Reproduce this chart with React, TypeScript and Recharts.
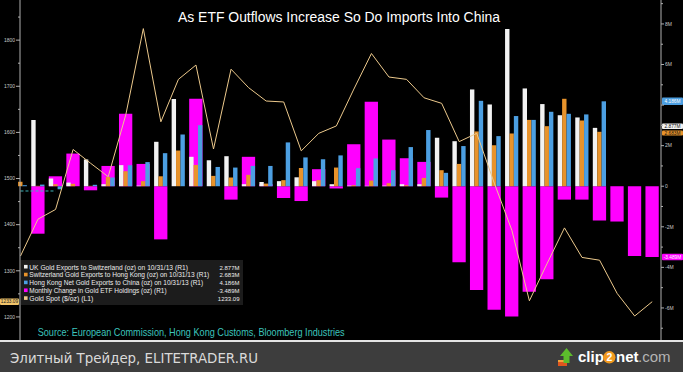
"use client";
import React from "react";
import { Bar, ComposedChart, Legend, Line, ReferenceLine, XAxis, YAxis } from "recharts";

// monthly buckets, Jan 2011 .. Jan 2014
const months = [
  "Jan 11", "Feb 11", "Mar 11", "Apr 11", "May 11", "Jun 11", "Jul 11", "Aug 11", "Sep 11", "Oct 11", "Nov 11", "Dec 11",
  "Jan 12", "Feb 12", "Mar 12", "Apr 12", "May 12", "Jun 12", "Jul 12", "Aug 12", "Sep 12", "Oct 12", "Nov 12", "Dec 12",
  "Jan 13", "Feb 13", "Mar 13", "Apr 13", "May 13", "Jun 13", "Jul 13", "Aug 13", "Sep 13", "Oct 13", "Nov 13", "Dec 13",
  "Jan 14",
];

// million oz (R1)
const ukToSwitzerland = [
  0, 3.26, 0.38, 0.18, 1.32, 0.1, 1.04, 0.03, 2.19, 4.3, 1.45, 1.28,
  1.48, 0.1, 0.21, 0.25, 0.44, 0.25, 0.1, 0.03, 0.02, 0.03, 0.1, 0.1,
  2.39, 2.22, 4.77, 4.03, 7.75, 4.82, 4.05, 3.5, 3.39, 2.877, null, null,
  null,
];
const switzerlandToHongKong = [
  0.22, 0.02, 0.1, 0.12, 0.02, 0.46, 0.74, 0.25, 0.49, 1.76, 1.05, 0.51,
  0.43, 0.56, 0.13, 0.3, 0.9, 0.3, 0.92, 0.05, 0.28, 0.15, 0.05, 0.41,
  0.79, 1.1, 2.7, 2.02, 2.6, 3.27, 2.96, 4.31, 3.24, 2.683, null, null,
  null,
];
const hongKongToChina = [
  0.05, 0.08, -0.15, 0, 0.07, 0.43, 1.04, 1.19, 1.63, 2.55, 3.01, 0.95,
  0.92, 1.0, 1.0, 2.16, 1.42, 1.33, 1.52, 0.89, 1.37, 0.79, 1.93, 2.77,
  0.66, 1.98, 4.21, 2.47, 3.46, 3.27, 3.67, 3.57, 3.54, 4.186, null, null,
  null,
];
const etfHoldingsChange = [
  0, -2.34, 0.49, 1.61, -0.2, 1.0, 3.57, 1.1, -2.62, 0, 4.31, 0,
  -0.66, 1.45, 0.1, -0.58, -0.73, 0.84, -0.11, 2.07, 4.16, 2.3, 1.38, 1.2,
  -0.56, -3.75, -5.12, -6.09, -6.42, -5.2, -4.58, -0.66, -0.66, -1.69, -1.74, -3.44,
  -3.489,
];
// $/oz (L1)
const goldSpot = [
  1332, 1412, 1433, 1563, 1533, 1504, 1638, 1825, 1623, 1715, 1746, 1564,
  1737, 1697, 1668, 1666, 1560, 1598, 1614, 1694, 1771, 1720, 1715, 1675,
  1663, 1580, 1598, 1490, 1388, 1235, 1315, 1393, 1329, 1323, 1251, 1202,
  1233.09,
];

const leftTicks = [1200, 1250, 1300, 1350, 1400, 1450, 1500, 1550, 1600, 1650, 1700, 1750, 1800, 1850];
const rightTicks = [-7, -6, -5, -4, -3, -2, -1, 0, 1, 2, 3, 4, 5, 6, 7, 8, 9];

const data = months.map((month, i) => ({
  month,
  uk: ukToSwitzerland[i],
  swiss: switzerlandToHongKong[i],
  hk: hongKongToChina[i],
  etf: etfHoldingsChange[i],
  gold: goldSpot[i],
}));

const lastOf = (arr: (number | null)[]) => {
  for (let i = arr.length - 1; i >= 0; i--) if (arr[i] != null) return arr[i] as number;
  return 0;
};

const WHITE = "#f2f2f2";
const ORANGE = "#e8932b";
const BLUE = "#4c9fe2";
const MAGENTA = "#ff00ff";
const GOLD = "#ecc98c";
const AXIS = "#b0b0b0";
const SANS = "'Liberation Sans', Arial, sans-serif";
const MONO = "'DejaVu Sans', sans-serif";

const legendRows = [
  { label: "UK Gold Exports to Switzerland (oz) on 10/31/13 (R1)", color: WHITE, value: lastOf(ukToSwitzerland).toFixed(3) + "M" },
  { label: "Switzerland Gold Exports to Hong Kong (oz) on 10/31/13 (R1)", color: ORANGE, value: lastOf(switzerlandToHongKong).toFixed(3) + "M" },
  { label: "Hong Kong Net Gold Exports to China (oz) on 10/31/13 (R1)", color: BLUE, value: lastOf(hongKongToChina).toFixed(3) + "M" },
  { label: "Monthly Change in Gold ETF Holdings (oz) (R1)", color: MAGENTA, value: lastOf(etfHoldingsChange).toFixed(3) + "M" },
  { label: "Gold Spot ($/oz) (L1)", color: GOLD, value: lastOf(goldSpot).toFixed(2) },
];

function LeftTick({ x, y, payload }: any) {
  const major = payload.value % 100 === 0;
  return (
    <g>
      <line x1={x - (major ? 4 : 2)} x2={x} y1={y} y2={y} stroke={AXIS} />
      {major && (
        <text x={x - 5} y={y + 1.7} textAnchor="end" fontSize={5} fill="#c8c8c8" fontFamily={SANS}>
          {payload.value}
        </text>
      )}
    </g>
  );
}

function RightTick({ x, y, payload }: any) {
  const v = payload.value;
  const major = v % 2 === 0;
  // the 4M label sits under the last-value flag
  const showText = major && v !== 4;
  return (
    <g>
      <line x1={x} x2={x + (major ? 3 : 2)} y1={y} y2={y} stroke={AXIS} />
      {showText && (
        <text x={x + 4} y={y + 1.7} fontSize={5} fill="#c8c8c8" fontFamily={SANS}>
          {v === 0 ? "0" : v + "M"}
        </text>
      )}
    </g>
  );
}

// last-value flag on an axis
function tag(text: string, bg: string, fg: string, side: "left" | "right", shift = 0, h = 6.5) {
  return (props: any) => {
    const vb = props.viewBox;
    const w = side === "left" ? 19 : 21;
    const left = side === "left" ? vb.x - w - 1 : vb.x + vb.width + 1;
    const cy = vb.y + shift;
    return (
      <g>
        <rect x={left} y={cy - h / 2} width={w} height={h} rx={1} fill={bg} />
        <text x={left + w / 2} y={cy + 1.7} textAnchor="middle" fontSize={4.8} fill={fg} fontFamily={SANS}>
          {text}
        </text>
      </g>
    );
  };
}

function LegendBox() {
  return (
    <div style={{ width: 222, height: 45, background: "#1c1c1c" }}>
      <svg width={222} height={45} style={{ display: "block" }}>
        {legendRows.map((r, i) => {
          const base = 9.5 + i * 7.85;
          return (
            <g key={r.label}>
              <rect x={3} y={base - 4.6} width={3.6} height={3.6} fill={r.color} />
              <text x={8.3} y={base} fontSize={6.3} fill="#ececec" fontFamily={SANS}
                textLength={r.label.length * 3.05} lengthAdjust="spacingAndGlyphs">
                {r.label}
              </text>
              <text x={218.5} y={base} fontSize={6} fill="#ececec" fontFamily={SANS} textAnchor="end">
                {r.value}
              </text>
            </g>
          );
        })}
      </svg>
    </div>
  );
}

export default function App() {
  return (
    <div style={{ position: "absolute", left: 0, top: 0, width: 683, height: 372, background: "#000", overflow: "hidden" }}>
      <ComposedChart width={683} height={340} data={data} margin={{ top: 0, right: 0, bottom: 0, left: 0 }} barGap={0}>
        <XAxis xAxisId="a" dataKey="month" hide padding={{ left: -8.3, right: 0 }} />
        <XAxis xAxisId="b" dataKey="month" hide padding={{ left: -8.3, right: 0 }} />
        <YAxis yAxisId="l" orientation="left" width={20} domain={[1150, 1887]} allowDataOverflow
          ticks={leftTicks} interval={0} tickSize={0} tickMargin={0} tickLine={false}
          axisLine={{ stroke: AXIS }} tick={<LeftTick />} />
        <YAxis yAxisId="r" orientation="right" width={22} domain={[-7.58, 9.18]} allowDataOverflow
          ticks={rightTicks} interval={0} tickSize={0} tickMargin={0} tickLine={false}
          axisLine={{ stroke: AXIS }} tick={<RightTick />} />

        <Bar xAxisId="b" yAxisId="r" dataKey="etf" fill={MAGENTA} barSize={13.3} isAnimationActive={false} />
        <Bar xAxisId="a" yAxisId="r" dataKey="uk" fill={WHITE} barSize={4.4} isAnimationActive={false} />
        <Bar xAxisId="a" yAxisId="r" dataKey="swiss" fill={ORANGE} barSize={4.4} isAnimationActive={false} />
        <Bar xAxisId="a" yAxisId="r" dataKey="hk" fill={BLUE} barSize={4.4} isAnimationActive={false} />
        <Line xAxisId="a" yAxisId="l" dataKey="gold" stroke={GOLD} strokeWidth={1} dot={false}
          type="linear" isAnimationActive={false} />

        <ReferenceLine xAxisId="a" yAxisId="l" stroke="#3fb6bc" strokeDasharray="3 2"
          segment={[{ x: months[0], y: 1473 }, { x: months[2], y: 1473 }]} />
        <ReferenceLine xAxisId="a" yAxisId="r" y={lastOf(hongKongToChina)} stroke="none"
          label={tag(legendRows[2].value, BLUE, "#ffffff", "right", 0, 7.5)} />
        <ReferenceLine xAxisId="a" yAxisId="r" y={lastOf(ukToSwitzerland)} stroke="none"
          label={tag(legendRows[0].value, WHITE, "#111", "right", -1.5, 5.5)} />
        <ReferenceLine xAxisId="a" yAxisId="r" y={lastOf(switzerlandToHongKong)} stroke="none"
          label={tag(legendRows[1].value, ORANGE, "#111", "right", 1.2, 5)} />
        <ReferenceLine xAxisId="a" yAxisId="r" y={lastOf(etfHoldingsChange)} stroke="none"
          label={tag(legendRows[3].value, MAGENTA, "#ffffff", "right")} />
        <ReferenceLine xAxisId="a" yAxisId="l" y={lastOf(goldSpot)} stroke="none"
          label={tag(legendRows[4].value, "#f2c46a", "#222", "left")} />

        <Legend layout="vertical" align="center" verticalAlign="middle"
          wrapperStyle={{ left: 21, top: 260, width: 222, height: 45 }} content={() => <LegendBox />} />
      </ComposedChart>

      <svg width={683} height={340} style={{ position: "absolute", left: 0, top: 0, pointerEvents: "none" }}>
        <text x={339} y={21.7} textAnchor="middle" fontSize={14} fill="#ffffff" fontFamily={SANS}
          textLength={322} lengthAdjust="spacingAndGlyphs">
          As ETF Outflows Increase So Do Imports Into China
        </text>
        <text x={37.7} y={336} fontSize={10.5} fill="#3cc4bc" fontFamily={SANS}
          textLength={307} lengthAdjust="spacingAndGlyphs">
          Source: European Commission, Hong Kong Customs, Bloomberg Industries
        </text>
      </svg>

      <div style={{ position: "absolute", left: 0, top: 340, width: 683, height: 2, background: "#e4e4e4" }} />
      <div style={{ position: "absolute", left: 0, top: 342, width: 683, height: 30, background: "#3d3d3d" }}>
        <svg width={683} height={30} style={{ display: "block" }}>
          <text x={10} y={20.5} fontSize={13.5} fill="#dadada" fontFamily={MONO}
            textLength={248} lengthAdjust="spacingAndGlyphs">
            Элитный Трейдер, ELITETRADER.RU
          </text>
          <rect x={558} y={18} width={9} height={6} fill="#e0561e" />
          <rect x={558} y={18} width={9} height={2} fill="#f2a43a" />
          <polygon points="566.5,6 573,14 569.5,14 569.5,21 563.5,21 563.5,14 560,14" fill="#5cbc2c" />
          <text x={578} y={20} fontSize={15} fontWeight="bold" fill="#ffffff" fontFamily={SANS}>clip</text>
          <circle cx={609.3} cy={15.3} r={6.2} fill="#f29a1e" />
          <text x={609.3} y={19} fontSize={10.5} fontWeight="bold" fill="#ffffff" fontFamily={SANS} textAnchor="middle">2</text>
          <text x={616} y={20} fontSize={15} fontWeight="bold" fill="#ffffff" fontFamily={SANS}>net</text>
          <text x={638} y={20} fontSize={15} fill="#b4b4b4" fontFamily={SANS}>.com</text>
        </svg>
      </div>
    </div>
  );
}
